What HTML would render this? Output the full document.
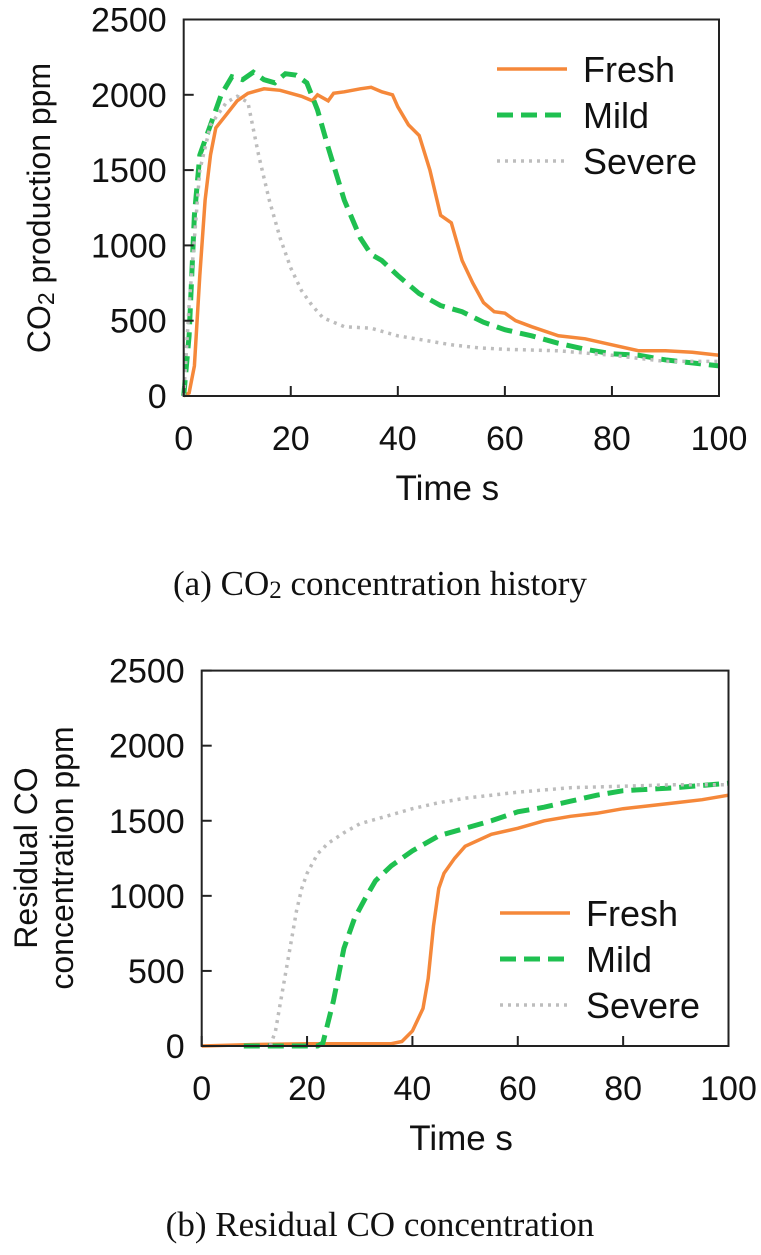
<!DOCTYPE html>
<html><head><meta charset="utf-8"><style>
body{margin:0;background:#fff;width:761px;height:1250px;overflow:hidden}
svg{font-family:"Liberation Sans",sans-serif}
.cap{font-family:"Liberation Serif",serif}
</style></head><body>
<svg id="s" width="761" height="1250"></svg>
<script>
const ticksX=[0,20,40,60,80,100];
const ticksY=[0,500,1000,1500,2000,2500];
const seriesNames=["Fresh","Mild","Severe"];
const aFreshX=[0,1,2,3,4,5,6,8,10,12,15,18,22,24,25,27,28,30,33,35,37,39,40,42,44,46,48,50,52,54,56,58,60,62,65,70,75,80,85,90,95,100];
const aFreshY=[0,20,200,800,1300,1600,1780,1870,1960,2010,2040,2030,1990,1960,2000,1960,2010,2020,2040,2050,2020,2000,1920,1800,1730,1500,1200,1150,900,750,620,560,550,500,460,400,380,340,300,300,290,270];
const aMildX=[0,1,2,3,5,7,9,11,13,15,17,19,21,23,25,27,30,33,35,37,40,44,48,52,56,60,65,70,75,80,85,90,95,100];
const aMildY=[0,400,1200,1600,1800,2000,2120,2100,2150,2100,2080,2140,2130,2080,1900,1650,1300,1050,940,900,800,680,600,560,490,440,400,350,310,280,270,240,220,200];
const aSevX=[0,1,3,5,8,10,12,14,16,18,20,22,24,26,30,35,40,45,50,55,60,70,80,90,100];
const aSevY=[0,600,1500,1800,1950,1990,1950,1600,1300,1050,850,700,600,520,460,450,400,370,340,320,310,300,270,230,230];
const bFreshX=[0,10,20,30,36,38,40,42,43,44,45,46,48,50,55,60,65,70,75,80,85,90,95,100];
const bFreshY=[0,10,15,15,15,30,100,250,450,800,1050,1150,1250,1330,1410,1450,1500,1530,1550,1580,1600,1620,1640,1670];
const bMildX=[8,22,23,25,27,29,31,33,36,40,45,50,55,60,65,70,75,80,90,100];
const bMildY=[0,0,20,300,650,850,980,1100,1200,1300,1400,1450,1500,1560,1590,1630,1670,1700,1720,1750];
const bSevX=[13,14,15,16,17,18,19,20,22,24,27,30,35,40,45,50,60,70,80,90,100];
const bSevY=[0,100,300,500,700,900,1050,1150,1280,1350,1420,1480,1530,1580,1620,1650,1690,1720,1730,1740,1740];

const NS="http://www.w3.org/2000/svg",svg=document.getElementById('s');
function mk(t,a,p){const e=document.createElementNS(NS,t);for(const k in a)e.setAttribute(k,a[k]);(p||svg).appendChild(e);return e;}
const styles=[{stroke:"#f5883a","stroke-width":3.5},{stroke:"#1fc050","stroke-width":5,"stroke-dasharray":"16,8"},{stroke:"#bdbdbd","stroke-width":3.5,"stroke-dasharray":"3,5"}];
function chart(id,x0,x1,y0,y1,data,leg,ylab,xlabY,cap,capY){
  const g=mk('g',{});
  
  
  const sx=v=>x0+(x1-x0)*v/100, sy=v=>y0-(y0-y1)*v/2500;
  data.forEach((d,i)=>{
    const p=mk('path',Object.assign({fill:"none",d:d[0].map((x,j)=>(j?'L':'M')+sx(x).toFixed(1)+','+sy(d[1][j]).toFixed(1)).join('')},styles[i]),g);
    
    
  });
  const fr=mk('rect',{x:x0,y:y1,width:x1-x0,height:y0-y1,fill:"none",stroke:"#222","stroke-width":2},g);
  
  
  ticksY.forEach(v=>{
    mk('line',{x1:x0,x2:x0+10,y1:sy(v),y2:sy(v),stroke:"#222","stroke-width":2},g);
    const t=mk('text',{x:x0-17,y:sy(v)+12,"text-anchor":"end","font-size":34,fill:"#111"},g);t.textContent=v;
    
    
  });
  ticksX.forEach(v=>{
    mk('line',{x1:sx(v),x2:sx(v),y1:y0,y2:y0-10,stroke:"#222","stroke-width":2},g);
    const t=mk('text',{x:sx(v),y:y0+54,"text-anchor":"middle","font-size":34,fill:"#111"},g);t.textContent=v;
    
    
  });
  const xt=mk('text',{x:(x0+x1)/2-4,y:xlabY,"text-anchor":"middle","font-size":35,fill:"#111"},g);xt.textContent="Time s";
  
  
  ylab(g);
  seriesNames.forEach((n,i)=>{
    mk('line',Object.assign({x1:leg[0],x2:leg[0]+70,y1:leg[1]+i*46,y2:leg[1]+i*46},styles[i]),g);
    const t=mk('text',{x:leg[0]+86,y:leg[1]+i*46+13,"font-size":36,fill:"#111"},g);t.textContent=n;
    
    
  });
  const c=mk('text',{x:380,y:capY,"text-anchor":"middle","font-size":35,fill:"#111",class:"cap"},g);c.innerHTML=cap;
  
  
}
chart('chart-co2',183.7,719,396,19.5,[[aFreshX,aFreshY],[aMildX,aMildY],[aSevX,aSevY]],[497,69],g=>{
  const t=mk('text',{transform:"translate(50,208) rotate(-90)","text-anchor":"middle","font-size":32,fill:"#111"},g);
  t.innerHTML='CO<tspan font-size="23" dy="4">2</tspan><tspan dy="-4"> production ppm</tspan>';
  
  
},500,'(a) CO<tspan font-size="25" dy="3">2</tspan><tspan dy="-3"> concentration history</tspan>',595);
chart('chart-co',201.7,728.5,1046,670.6,[[bFreshX,bFreshY],[bMildX,bMildY],[bSevX,bSevY]],[500,913],g=>{
  const t=mk('text',{transform:"translate(37,858) rotate(-90)","text-anchor":"middle","font-size":32,fill:"#111"},g);t.textContent="Residual CO";
  
  
  const t2=mk('text',{transform:"translate(73,858) rotate(-90)","text-anchor":"middle","font-size":32,fill:"#111"},g);t2.textContent="concentration ppm";
  
  
},1150,'(b) Residual CO concentration',1236);
</script>
</body></html>
